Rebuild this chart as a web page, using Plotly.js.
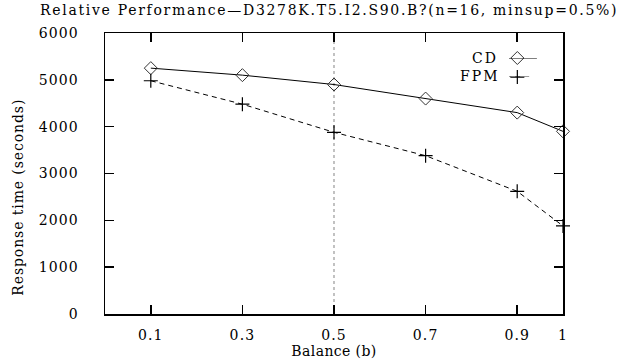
<!DOCTYPE html>
<html><head><meta charset="utf-8">
<script src="https://cdn.plot.ly/plotly-3.0.1.min.js"></script>
<style>body{margin:0;background:#fff}#chart{width:621px;height:360px}
#chart text{letter-spacing:0.4px}
#chart .gtitle{letter-spacing:1.7px}
#chart .xtick text,#chart .ytick text{letter-spacing:1.1px}
#chart .annotation text{letter-spacing:0.9px}
#chart .annotation.leg text{letter-spacing:2px}
</style>
</head><body><div id="chart"></div>
<script>
var balance = [0.1, 0.3, 0.5, 0.7, 0.9, 1.0];
var cdTimes = [5250, 5100, 4900, 4600, 4300, 3900];
var fpmTimes = [4980, 4480, 3880, 3380, 2620, 1880];
var xTickVals = [0.1, 0.3, 0.5, 0.7, 0.9, 1];
var xTickText = ['0.1', '0.3', '0.5', '0.7', '0.9', '1'];
var yTickVals = [0, 1000, 2000, 3000, 4000, 5000, 6000];

var FONT = 'DejaVu Serif, Liberation Serif, serif';
var traces = [
  {x: balance, y: cdTimes, name: 'CD', mode: 'lines+markers', cliponaxis: false,
   line: {color: '#000', width: 1},
   marker: {symbol: 'diamond-open', size: 10, color: '#333', line: {width: 1}}},
  {x: balance, y: fpmTimes, name: 'FPM', mode: 'lines+markers', cliponaxis: false,
   line: {color: '#000', width: 1, dash: '5px,4px'},
   marker: {symbol: 'cross-thin-open', size: 10, color: '#000', line: {width: 1.2}}},
  {x: [0.3], y: [1], xaxis: 'x2', yaxis: 'y2', mode: 'markers', hoverinfo: 'skip', cliponaxis: false,
   marker: {symbol: 'diamond-open', size: 10, color: '#333', line: {width: 1}}},
  {x: [0.3], y: [0], xaxis: 'x2', yaxis: 'y2', mode: 'markers', hoverinfo: 'skip', cliponaxis: false,
   marker: {symbol: 'cross-thin-open', size: 10, color: '#000', line: {width: 1.2}}}
];

var layout = {
  width: 621, height: 360,
  margin: {l: 105, r: 58, t: 33, b: 46},
  showlegend: false,
  paper_bgcolor: '#fff', plot_bgcolor: '#fff',
  font: {family: FONT, size: 14, color: '#000'},
  title: {text: 'Relative Performance\u2014D3278K.T5.I2.S90.B?(n=16, minsup=0.5%)',
          x: 0.53, xanchor: 'center', y: 0.985, yanchor: 'top',
          font: {family: FONT, size: 14, color: '#000'}},
  xaxis: {range: [0, 1], tickvals: xTickVals, ticktext: xTickText,
          ticks: 'inside', ticklen: 9, tickwidth: 1.5, tickcolor: '#000',
          showline: true, linecolor: '#000', linewidth: 1.5, mirror: 'ticks',
          showgrid: false, zeroline: false,
          tickfont: {family: FONT, size: 14}, ticklabelstandoff: 8,
          title: {text: 'Balance (b)', standoff: 0, font: {family: FONT, size: 14}}},
  yaxis: {range: [0, 6000], tickvals: yTickVals,
          ticks: 'inside', ticklen: 9, tickwidth: 1.5, tickcolor: '#000',
          showline: true, linecolor: '#000', linewidth: 1.5, mirror: 'ticks',
          showgrid: false, zeroline: false,
          tickfont: {family: FONT, size: 14}, ticklabelstandoff: 22},
  xaxis2: {domain: [0.882, 0.943], range: [0, 1], visible: false, fixedrange: true, anchor: 'y2'},
  yaxis2: {domain: [0.843, 0.911], range: [0, 1], visible: false, fixedrange: true, anchor: 'x2'},
  shapes: [
    {type: 'line', xref: 'x', yref: 'paper', x0: 0.5, x1: 0.5, y0: 0, y1: 1,
     line: {color: '#999', width: 1.2, dash: 'dot'}, layer: 'below'},
    {type: 'line', xref: 'x2', yref: 'y2', x0: 0, x1: 1, y0: 1, y1: 1,
     line: {color: '#000', width: 1}},
    {type: 'line', xref: 'x2', yref: 'y2', x0: -0.1, x1: 0.85, y0: 0, y1: 0,
     line: {color: '#000', width: 1, dash: '5px,4px'}}
  ],
  annotations: [
    {xref: 'paper', yref: 'paper', x: -0.19, y: 0.415, text: 'Response time (seconds)',
     textangle: -90, showarrow: false, xanchor: 'center', yanchor: 'middle',
     font: {family: FONT, size: 14}},
    {xref: 'paper', yref: 'paper', x: 0.858, y: 0.911, text: 'CD', showarrow: false,
     xanchor: 'right', yanchor: 'middle', font: {family: FONT, size: 14}},
    {xref: 'paper', yref: 'paper', x: 0.858, y: 0.848, text: 'FPM', showarrow: false,
     xanchor: 'right', yanchor: 'middle', font: {family: FONT, size: 14}}
  ]
};
Plotly.newPlot('chart', traces, layout, {staticPlot: true, displayModeBar: false}).then(function(gd){
  var anns = gd.querySelectorAll('.annotation');
  for (var i = 1; i < anns.length; i++) anns[i].classList.add('leg');
});
</script></body></html>
